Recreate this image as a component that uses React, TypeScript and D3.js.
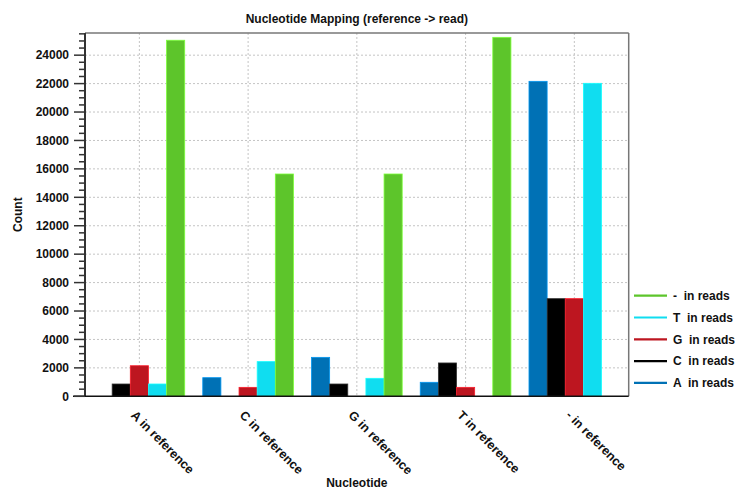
import React from "react";
import * as d3 from "d3";

const categories = ["A in reference", "C in reference", "G in reference", "T in reference", "- in reference"];
const seriesNames = ["A  in reads", "C  in reads", "G  in reads", "T  in reads", "-  in reads"];
const seriesColors = ["#0071B5", "#000000", "#BD1620", "#10DDF0", "#5DC52B"];
const aInReads = [0, 1310, 2740, 985, 22160];
const cInReads = [865, 0, 865, 2345, 6870];
const gInReads = [2150, 630, 0, 630, 6870];
const tInReads = [865, 2440, 1265, 0, 22020];
const dashInReads = [25050, 15640, 15640, 25255, 0];
const seriesValues = [aInReads, cInReads, gInReads, tInReads, dashInReads];
const yTicks = [0, 2000, 4000, 6000, 8000, 10000, 12000, 14000, 16000, 18000, 20000, 22000, 24000];
const yMax = 25560;

const W = 740, H = 491;
const left = 85, right = 628.7, top = 33, bottom = 396.3;
const FONT = "'Liberation Sans', Arial, sans-serif";

export default function App() {
  const x0 = d3.scaleBand<string>().domain(categories).range([left, right]).padding(0);
  const bw = x0.bandwidth();
  const groupW = bw * 0.834;
  const x1 = d3.scaleBand<string>().domain(seriesNames).range([(bw - groupW) / 2, (bw + groupW) / 2]).padding(0);
  const y = d3.scaleLinear().domain([0, yMax]).range([bottom, top]);
  const minorTicks = d3.range(0, yMax, 500).filter((v) => v % 2000 !== 0);

  return (
    <svg width={W} height={H} style={{ position: "absolute", left: 0, top: 0, background: "#fff" }} fontFamily={FONT}>
      <rect x={0} y={0} width={W} height={H} fill="#fff" />
      {/* grid */}
      {yTicks.filter((t) => t > 0).map((t) => (
        <line key={"hg" + t} x1={left} x2={right} y1={y(t)} y2={y(t)} stroke="#c4c4c4" strokeDasharray="2,2" strokeWidth={1} />
      ))}
      {categories.map((c) => (
        <line key={"vg" + c} x1={x0(c)! + bw / 2} x2={x0(c)! + bw / 2} y1={top} y2={bottom} stroke="#c4c4c4" strokeDasharray="2,2" strokeWidth={1} />
      ))}
      {/* bars */}
      {categories.map((c, ci) => (
        <g key={"g" + c} transform={`translate(${x0(c)},0)`}>
          {seriesNames.map((s, si) => {
            const v = seriesValues[si][ci];
            if (v <= 0) return null;
            const col = seriesColors[si];
            const light = d3.color(col)!.brighter(0.8).formatHex();
            return (
              <rect key={s} x={x1(s)!} y={y(v)} width={x1.bandwidth()} height={bottom - y(v)} fill={col} stroke={si === 1 ? "#333" : light} strokeWidth={0.8} />
            );
          })}
        </g>
      ))}
      {/* frame */}
      <line x1={left} x2={right} y1={top} y2={top} stroke="#777" strokeWidth={1.5} />
      <line x1={right} x2={right} y1={top} y2={bottom} stroke="#777" strokeWidth={1.5} />
      <line x1={left} x2={left} y1={top} y2={bottom} stroke="#333" strokeWidth={2} />
      <line x1={73} x2={right} y1={bottom} y2={bottom} stroke="#111" strokeWidth={1.5} />
      {/* y ticks */}
      {minorTicks.map((t) => (
        <line key={"mt" + t} x1={79} x2={left} y1={y(t)} y2={y(t)} stroke="#333" strokeWidth={1.5} />
      ))}
      {yTicks.map((t) => (
        <g key={"yt" + t}>
          <line x1={74} x2={left} y1={y(t)} y2={y(t)} stroke="#333" strokeWidth={1.5} />
          <text x={69} y={y(t)} dy="0.36em" textAnchor="end" fontSize={12} fontWeight="bold" fill="#111">{t}</text>
        </g>
      ))}
      {/* x labels */}
      {categories.map((c) => {
        const px = x0(c)! + bw / 2 - 9;
        const py = 416;
        return (
          <text key={"xl" + c} transform={`translate(${px},${py}) rotate(45)`} fontSize={12.5} fontWeight="bold" fill="#111" style={{ whiteSpace: "pre" }}>{c}</text>
        );
      })}
      {/* titles */}
      <text x={(left + right) / 2} y={22.5} textAnchor="middle" fontSize={12} fontWeight="bold" fill="#111">Nucleotide Mapping (reference -&gt; read)</text>
      <text transform={`translate(22,${(top + bottom) / 2}) rotate(-90)`} textAnchor="middle" fontSize={12} fontWeight="bold" fill="#111">Count</text>
      <text x={(left + right) / 2} y={487} textAnchor="middle" fontSize={12} fontWeight="bold" fill="#111">Nucleotide</text>
      {/* legend */}
      {seriesNames.slice().reverse().map((s, i) => {
        const si = seriesNames.indexOf(s);
        const ly = 295.7 + i * 21.8;
        return (
          <g key={"lg" + s}>
            <line x1={634} x2={667} y1={ly} y2={ly} stroke={seriesColors[si]} strokeWidth={2.2} />
            <text x={673} y={ly} dy="0.36em" fontSize={12} fontWeight="bold" fill="#111" style={{ whiteSpace: "pre" }}>{s}</text>
          </g>
        );
      })}
    </svg>
  );
}
